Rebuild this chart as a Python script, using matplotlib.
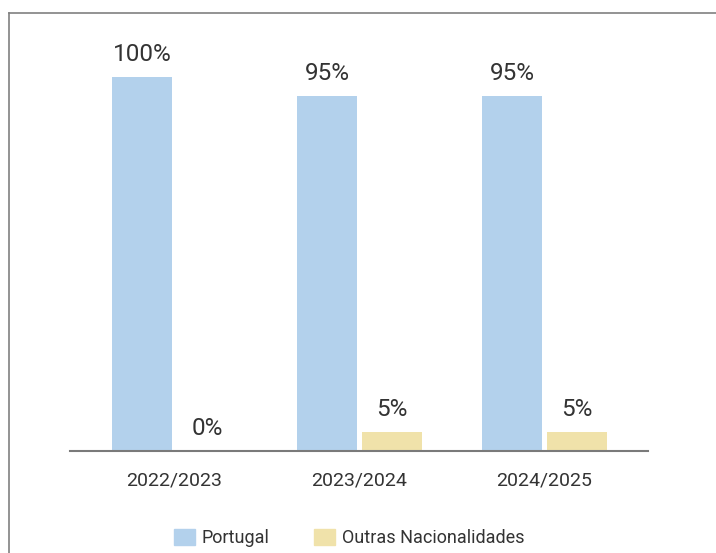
import matplotlib.pyplot as plt
import numpy as np
from matplotlib.lines import Line2D
from matplotlib.patches import Patch

plt.rcParams["font.family"] = ["Roboto", "DejaVu Sans"]

anos = ["2022/2023", "2023/2024", "2024/2025"]
portugal = [100, 95, 95]
outras = [0, 5, 5]
series_names = ["Portugal", "Outras Nacionalidades"]

blue = "#b3d1ec"
yellow = "#f0e2aa"
text_col = "#333333"

W, H = 716, 553
fig = plt.figure(figsize=(W / 100, H / 100), dpi=100)

# axes placed in pixel terms
left, right, base, top = 70, 648, 451, 40
ax = fig.add_axes([left / W, (H - base) / H, (right - left) / W, (base - top) / H])

x = np.arange(len(anos))
bw = 60 / 185
gap = 5 / 185
b1 = ax.bar(x - (bw + gap) / 2, portugal, bw, color=blue)
b2 = ax.bar(x + (bw + gap) / 2, outras, bw, color=yellow)

for bars, vals in [(b1, portugal), (b2, outras)]:
    for r, v in zip(bars, vals):
        ax.annotate(f"{v}%", (r.get_x() + r.get_width() / 2, v),
                    xytext=(0, 8), textcoords="offset points",
                    ha="center", va="bottom", fontsize=17.5, color=text_col)

ax.set_xlim(-0.565, 2.56)
ax.set_ylim(0, 110)
ax.set_yticks([])
ax.set_xticks(x)
ax.set_xticklabels(anos, fontsize=14, color=text_col)
ax.tick_params(axis="x", length=0, pad=14.5)
for s in ["top", "right", "left"]:
    ax.spines[s].set_visible(False)
ax.spines["bottom"].set_color("#7a7a7a")
ax.spines["bottom"].set_linewidth(1.5)

# legend
handles = [Patch(color=blue), Patch(color=yellow)]
fig.legend(handles, series_names, loc="center", bbox_to_anchor=(349 / W, 1 - 538 / H),
           ncol=2, frameon=False, fontsize=13, handlelength=1.17, handleheight=0.95,
           handletextpad=0.35, columnspacing=2.5, labelcolor=text_col)

# outer frame lines (left and top)
fig.add_artist(Line2D([9 / W, 9 / W], [0, 1 - 13 / H], color="#808080", lw=1.2))
fig.add_artist(Line2D([9 / W, 1], [1 - 13 / H, 1 - 13 / H], color="#808080", lw=1.2))

fig.savefig("out.png", dpi=100)
